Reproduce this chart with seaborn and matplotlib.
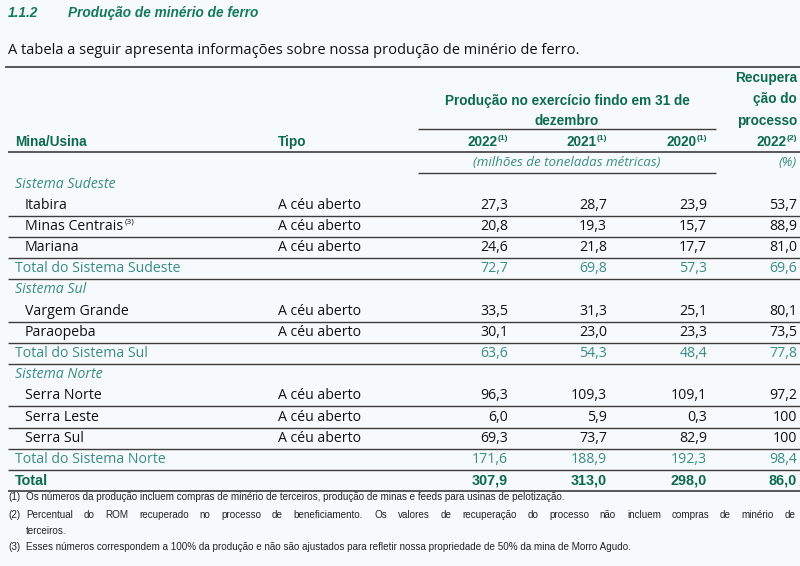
import pandas as pd
import matplotlib.pyplot as plt
import seaborn as sns

# dados da tabela
sistemas = ['Sistema Sudeste', 'Sistema Sul', 'Sistema Norte']
minas = [['Itabira', 'Minas Centrais', 'Mariana'],
         ['Vargem Grande', 'Paraopeba'],
         ['Serra Norte', 'Serra Leste', 'Serra Sul']]
tipo = 'A céu aberto'
anos = ['2022', '2021', '2020']

prod_2022 = [27.3, 20.8, 24.6, 33.5, 30.1, 96.3, 6.0, 69.3]
prod_2021 = [28.7, 19.3, 21.8, 31.3, 23.0, 109.3, 5.9, 73.7]
prod_2020 = [23.9, 15.7, 17.7, 25.1, 23.3, 109.1, 0.3, 82.9]
recup_2022 = [53.7, 88.9, 81.0, 80.1, 73.5, 97.2, 100, 100]

total_sudeste = [72.7, 69.8, 57.3, 69.6]
total_sul = [63.6, 54.3, 48.4, 77.8]
total_norte = [171.6, 188.9, 192.3, 98.4]
total_geral = [307.9, 313.0, 298.0, 86.0]

notas = [
    ('(1)', 'Os números da produção incluem compras de minério de terceiros, produção de minas e feeds para usinas de pelotização.'),
    ('(2)', 'Percentual do ROM recuperado no processo de beneficiamento. Os valores de recuperação do processo não incluem compras de minério de'),
    ('', 'terceiros.'),
    ('(3)', 'Esses números correspondem a 100% da produção e não são ajustados para refletir nossa propriedade de 50% da mina de Morro Agudo.'),
]

df = pd.DataFrame({'mina': sum(minas, []), 'p2022': prod_2022, 'p2021': prod_2021,
                   'p2020': prod_2020, 'rec': recup_2022})


def fmt(v):
    # 100 aparece sem casa decimal
    if isinstance(v, int):
        return str(v)
    return f'{v:.1f}'.replace('.', ',')


sns.set_theme(style='white')
plt.rcParams['font.family'] = ['Open Sans', 'DejaVu Sans']
COND = ['Liberation Sans', 'DejaVu Sans']

VERDE = '#127a5a'
VERDE_ESC = '#0c6a4f'
TEAL = '#3a8c86'
LINHA = '#3c3c3c'
FUNDO = '#f7fafc'
PRETO = '#111111'
FS = 10.2

fig = plt.figure(figsize=(8, 5.66), dpi=100, facecolor=FUNDO)
ax = fig.add_axes([0, 0, 1, 1])
ax.set_facecolor(FUNDO)
ax.set_xlim(0, 800)
ax.set_ylim(566, 0)
ax.axis('off')
fig.canvas.draw()
renderer = fig.canvas.get_renderer()


def largura(t):
    # largura em pixels (= unidades de dados, eixo 0..800)
    return t.get_window_extent(renderer=renderer).width


def texto_sup_direita(x, y, txt, sup, **kw):
    s = ax.text(x, y - 4, sup, ha='right', va='center', fontsize=6, color=kw.get('color', 'black'),
                family=kw.get('family', None), fontweight=kw.get('fontweight', 'normal'))
    ax.text(x - largura(s), y, txt, ha='right', va='center', **kw)


cols = [508, 607, 707, 797]
lx0, lx1 = 8, 800

# titulo e introducao
tkw = dict(color=VERDE, fontsize=9.8, fontweight='bold', style='italic', family=COND, va='center')
ax.text(8, 13, '1.1.2', **tkw)
ax.text(68, 13, 'Produção de minério de ferro', **tkw)
ax.text(8, 50, 'A tabela a seguir apresenta informações sobre nossa produção de minério de ferro.',
        fontsize=10.5, color=PRETO, va='center')
ax.hlines(67, 5, 800, color=LINHA, lw=1.2)

# cabecalho
hkw = dict(color=VERDE_ESC, fontsize=9.8, fontweight='bold', family=COND)
for i, linha in enumerate(['Recupera', 'ção do', 'processo']):
    ax.text(797, 78 + 21.5 * i, linha, ha='right', va='center', **hkw)
texto_sup_direita(797, 142, '2022', '(2)', **hkw)
ax.text(567, 101, 'Produção no exercício findo em 31 de', ha='center', va='center', **hkw)
ax.text(567, 121, 'dezembro', ha='center', va='center', **hkw)
ax.hlines(129, 418, 716, color=LINHA, lw=1.0)
for x, ano in zip(cols[:3], anos):
    texto_sup_direita(x, 142, ano, '(1)', **hkw)
ax.text(15, 142, 'Mina/Usina', ha='left', va='center', **hkw)
ax.text(278, 142, 'Tipo', ha='left', va='center', **hkw)
ax.hlines(152, lx0, lx1, color=LINHA, lw=1.2)
ax.text(567, 162, '(milhões de toneladas métricas)', ha='center', va='center', style='italic',
        color=TEAL, fontsize=9.6)
ax.text(797, 162, '(%)', ha='right', va='center', style='italic', color=TEAL, fontsize=9.6)
ax.hlines(173, 418, 716, color=LINHA, lw=1.0)

# corpo
totais = [total_sudeste, total_sul, total_norte]
nomes_total = ['Total do Sistema Sudeste', 'Total do Sistema Sul', 'Total do Sistema Norte']
passo = 21.2
y = 184
k = 0
for s, nome in enumerate(sistemas):
    ax.text(15, y, nome, ha='left', va='center', style='italic', color=TEAL, fontsize=FS)
    y += passo
    for mina in minas[s]:
        row = df.iloc[k]
        t = ax.text(25, y, mina, ha='left', va='center', color=PRETO, fontsize=FS)
        if mina == 'Minas Centrais':
            x_sup = t.get_window_extent(renderer=renderer).x1
            ax.text(x_sup + 1, y - 4, '(3)', ha='left', va='center', fontsize=6, color=PRETO)
        ax.text(278, y, tipo, ha='left', va='center', color=PRETO, fontsize=FS)
        for x, v in zip(cols, [row['p2022'], row['p2021'], row['p2020'], recup_2022[k]]):
            ax.text(x, y, fmt(v), ha='right', va='center', color=PRETO, fontsize=FS)
        ax.hlines(y + 10.5, lx0, lx1, color=LINHA, lw=1.0)
        y += passo
        k += 1
    ax.text(15, y, nomes_total[s], ha='left', va='center', color=TEAL, fontsize=FS)
    for x, v in zip(cols, totais[s]):
        ax.text(x, y, fmt(v), ha='right', va='center', color=TEAL, fontsize=FS)
    ax.hlines(y + 10.5, lx0, lx1, color=LINHA, lw=1.0)
    y += passo

ax.text(15, y, 'Total', ha='left', va='center', **dict(hkw, fontsize=10.4))
for x, v in zip(cols, total_geral):
    ax.text(x, y, fmt(v), ha='right', va='center', **dict(hkw, fontsize=10.4))
ax.hlines(y + 10.5, lx0, lx1, color=LINHA, lw=1.2)

# notas de rodape
nkw = dict(va='center', fontsize=7.1, family=COND, color='#222222')
ny = [497, 515, 531, 547]
for yy, (num, txt) in zip(ny, notas):
    ax.text(8, yy, num, ha='left', **nkw)
    if num == '(2)':
        # linha justificada ate a borda direita
        palavras = txt.split(' ')
        ts = [ax.text(0, yy, p, ha='left', **nkw) for p in palavras]
        ws = [largura(t) for t in ts]
        gap = (796 - 26 - sum(ws)) / (len(ws) - 1)
        xx = 26
        for t, w in zip(ts, ws):
            t.set_x(xx)
            xx += w + gap
    else:
        ax.text(26, yy, txt, ha='left', **nkw)

fig.savefig('out.png', dpi=100, facecolor=FUNDO)
plt.close(fig)
